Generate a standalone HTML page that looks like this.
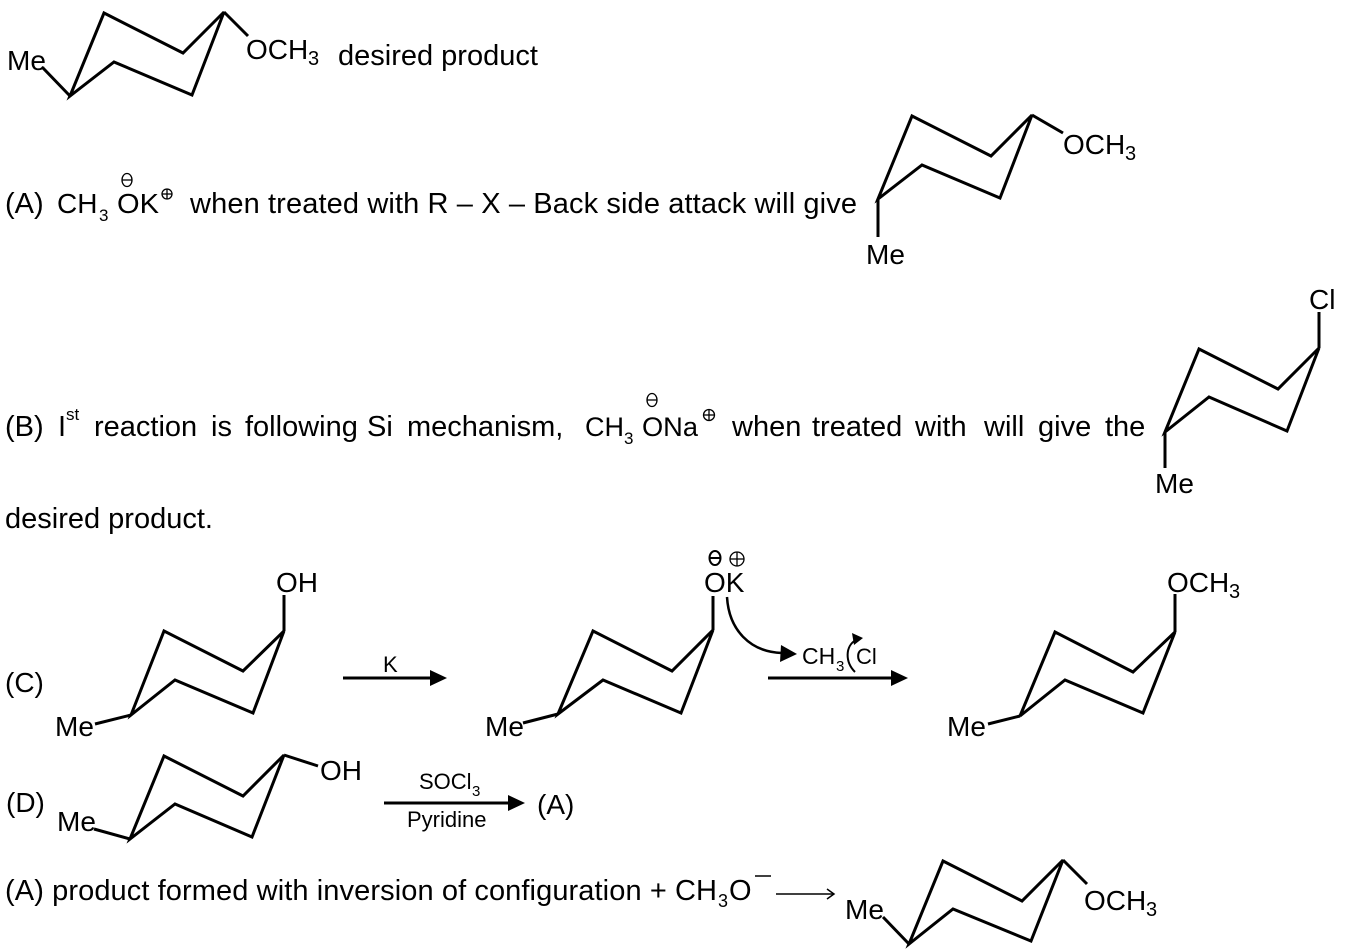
<!DOCTYPE html>
<html><head><meta charset="utf-8"><style>
html,body{margin:0;padding:0;background:#fff;}
svg{display:block;}
text{font-family:"Liberation Sans",Arial,sans-serif;fill:#000;}
</style></head><body>
<svg width="1345" height="950" viewBox="0 0 1345 950" xmlns="http://www.w3.org/2000/svg">
<g fill="none" stroke="#000" stroke-width="3">
<!-- Row 0 ring -->
<polygon points="70,96 104,13 183,53 224,12 192,95 114,62"/>
<line x1="43" y1="68" x2="70" y2="96"/>
<line x1="224" y1="12" x2="248" y2="36"/>
<!-- Row A ring -->
<polygon points="878,199 912,116 991,156 1032,115 1000,198 922,165"/>
<line x1="1032" y1="115" x2="1063" y2="133"/>
<line x1="878" y1="199" x2="878" y2="237"/>
<!-- Row B ring -->
<polygon points="1165,432 1199,349 1278,389 1319,348 1287,431 1209,397"/>
<line x1="1319" y1="348" x2="1319" y2="312"/>
<line x1="1165" y1="432" x2="1165" y2="468"/>
<!-- Row C ring 1 -->
<polygon points="131,715 164,631 243,671 284,631 253,713 175,680"/>
<line x1="284" y1="631" x2="284" y2="595"/>
<line x1="131" y1="715" x2="95" y2="724"/>
<!-- Row C ring 2 -->
<polygon points="558,714 593,631 672,671 713,630 681,713 603,680"/>
<line x1="713" y1="630" x2="713" y2="596"/>
<line x1="558" y1="714" x2="523" y2="723"/>
<!-- Row C ring 3 -->
<polygon points="1020,716 1055,632 1133,672 1175,632 1143,713 1065,680"/>
<line x1="1175" y1="632" x2="1175" y2="594"/>
<line x1="1020" y1="716" x2="988" y2="724"/>
<!-- Row D ring -->
<polygon points="130,839 164,756 243,796 284,755 252,837 175,804"/>
<line x1="284" y1="755" x2="318" y2="766"/>
<line x1="130" y1="839" x2="94" y2="829"/>
<!-- Final ring -->
<polygon points="909,944 943,861 1022,901 1063,860 1031,941 953,909"/>
<line x1="883" y1="917" x2="909" y2="944"/>
<line x1="1063" y1="860" x2="1087" y2="884"/>
<!-- arrows -->
<line x1="343" y1="678" x2="432" y2="678"/>
<line x1="768" y1="678" x2="893" y2="678"/>
<line x1="384" y1="803" x2="510" y2="803"/>
<path d="M727,597 C729,630 750,652 782,653" stroke-width="2.5"/>
<path d="M855,672 C845,662 845,646 856,640" stroke-width="2"/>
</g>
<g fill="#000" stroke="none">
<polygon points="447,678 430,670 430,686"/>
<polygon points="908,678 891,670 891,686"/>
<polygon points="525,803 508,795 508,811"/>
<polygon points="797,654 781,645 780,662"/>
<polygon points="863,638 852,633 854,645"/>
</g>
<!-- long thin arrow final row -->
<g fill="none" stroke="#000" stroke-width="1.5">
<line x1="776" y1="894" x2="834" y2="894"/>
<polyline points="827,889 834,894 827,899"/>
<line x1="755" y1="876" x2="771" y2="876"/>
</g>
<!-- charges -->
<g fill="none" stroke="#000" stroke-width="1.3">
<ellipse cx="127" cy="180" rx="5" ry="6.5"/><line x1="122" y1="180" x2="132" y2="180"/>
<circle cx="167" cy="194" r="5"/><line x1="162" y1="194" x2="172" y2="194"/><line x1="167" y1="189" x2="167" y2="199"/>
<ellipse cx="652" cy="400" rx="5" ry="6.5"/><line x1="647" y1="400" x2="657" y2="400"/>
<circle cx="709" cy="415" r="5.5"/><line x1="703.5" y1="415" x2="714.5" y2="415"/><line x1="709" y1="409.5" x2="709" y2="420.5"/>
<circle cx="737" cy="559" r="7"/><line x1="730" y1="559" x2="744" y2="559"/><line x1="737" y1="552" x2="737" y2="566"/>
</g>
<g fill="none" stroke="#000" stroke-width="2">
<ellipse cx="715" cy="558" rx="5.5" ry="7"/><line x1="710" y1="558" x2="720" y2="558"/>
</g>

<!-- Row 0 text -->
<text x="7" y="70" font-size="28">Me</text>
<text x="246" y="59" font-size="28">OCH</text><text x="308" y="65" font-size="20">3</text>
<text x="338" y="65" font-size="29">desired product</text>

<!-- Row A text -->
<text x="5" y="213" font-size="29">(A)</text>
<text x="57" y="213" font-size="28">CH</text><text x="99" y="221" font-size="17">3</text>
<text x="117" y="213" font-size="28" textLength="42" lengthAdjust="spacingAndGlyphs">OK</text>
<text x="190" y="213" font-size="29" textLength="667" lengthAdjust="spacing">when treated with R – X – Back side attack will give</text>
<text x="1063" y="154" font-size="28">OCH</text><text x="1125" y="160" font-size="20">3</text>
<text x="866" y="264" font-size="28">Me</text>

<!-- Row B text -->
<text x="5" y="436" font-size="29">(B)</text>
<text x="58" y="436" font-size="29">I</text>
<text x="66" y="420" font-size="17">st</text>
<text x="94" y="436" font-size="29">reaction</text>
<text x="211" y="436" font-size="29">is</text>
<text x="245" y="436" font-size="29">following</text>
<text x="367" y="436" font-size="29">Si</text>
<text x="407" y="436" font-size="29">mechanism,</text>
<text x="585" y="436" font-size="27">CH</text><text x="624" y="444" font-size="17">3</text>
<text x="642" y="436" font-size="27" textLength="56" lengthAdjust="spacingAndGlyphs">ONa</text>
<text x="732" y="436" font-size="29">when</text>
<text x="812" y="436" font-size="29">treated</text>
<text x="915" y="436" font-size="29">with</text>
<text x="984" y="436" font-size="29">will</text>
<text x="1038" y="436" font-size="29">give</text>
<text x="1105" y="436" font-size="29">the</text>
<text x="1309" y="309" font-size="28">Cl</text>
<text x="1155" y="493" font-size="28">Me</text>
<text x="5" y="528" font-size="29">desired product.</text>

<!-- Row C text -->
<text x="5" y="692" font-size="28">(C)</text>
<text x="276" y="592" font-size="28">OH</text>
<text x="55" y="736" font-size="28">Me</text>
<text x="383" y="672" font-size="22">K</text>
<text x="704" y="592" font-size="28">OK</text>
<text x="485" y="736" font-size="28">Me</text>
<text x="802" y="664" font-size="23">CH</text><text x="836" y="671" font-size="15">3</text>
<text x="856" y="664" font-size="22">Cl</text>
<text x="1167" y="592" font-size="28">OCH</text><text x="1229" y="598" font-size="20">3</text>
<text x="947" y="736" font-size="28">Me</text>

<!-- Row D text -->
<text x="6" y="812" font-size="28">(D)</text>
<text x="57" y="831" font-size="28">Me</text>
<text x="320" y="780" font-size="28">OH</text>
<text x="419" y="789" font-size="22">SOCl</text><text x="472" y="796" font-size="15">3</text>
<text x="407" y="827" font-size="22">Pyridine</text>
<text x="537" y="814" font-size="28">(A)</text>

<!-- Final row text -->
<text x="5" y="900" font-size="29" textLength="712" lengthAdjust="spacing">(A) product formed with inversion of configuration + CH</text>
<text x="718" y="907" font-size="18">3</text>
<text x="729" y="900" font-size="29">O</text>
<text x="845" y="919" font-size="28">Me</text>
<text x="1084" y="910" font-size="28">OCH</text><text x="1146" y="916" font-size="20">3</text>
</svg>
</body></html>
